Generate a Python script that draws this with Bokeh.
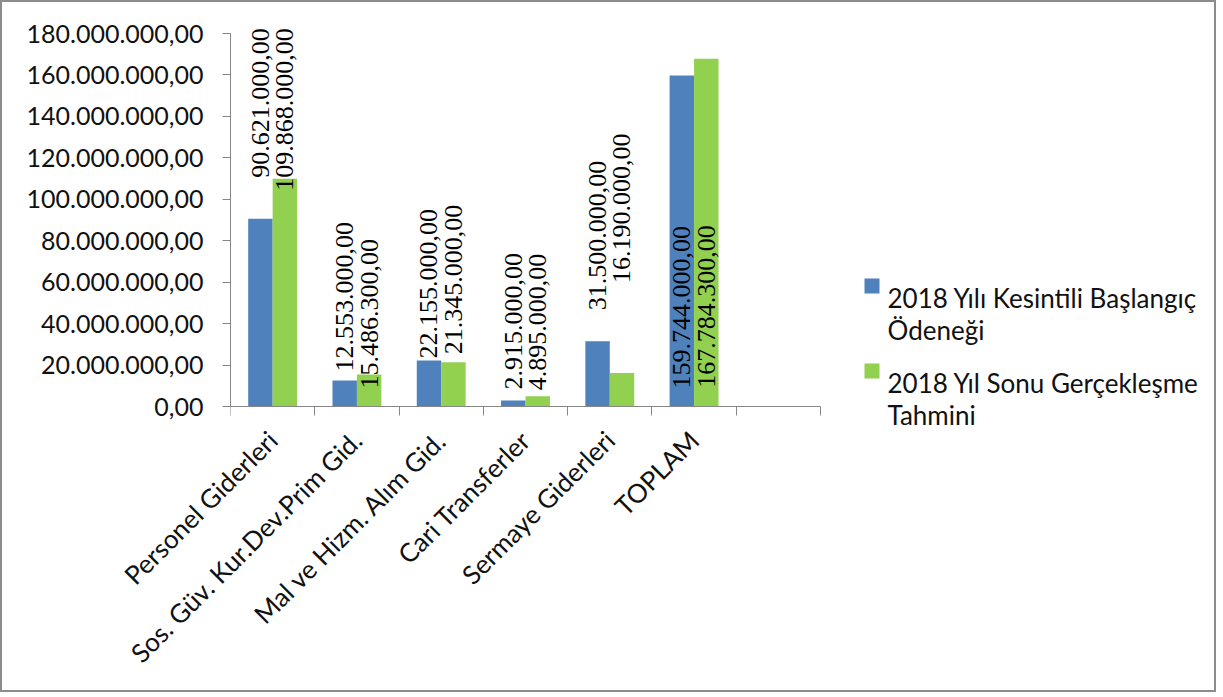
import math
from bokeh.plotting import figure
from bokeh.models import (ColumnDataSource, Range1d, FixedTicker, LinearAxis, LabelSet)
from bokeh.core.properties import value
from bokeh.embed import file_html
from bokeh.resources import INLINE

# ---- data ----
categories = ["Personel Giderleri", "Sos. Güv. Kur.Dev.Prim Gid.",
              "Mal ve Hizm. Alım Gid.", "Cari Transferler",
              "Sermaye Giderleri", "TOPLAM"]
baslangic = [90621000, 12553000, 22155000, 2915000, 31500000, 159744000]
tahmin = [109868000, 15486300, 21345000, 4895000, 16190000, 167784300]
series_names = ["2018 Yılı Kesintili Başlangıç\nÖdeneği",
                "2018 Yıl Sonu Gerçekleşme\nTahmini"]
y_ticks = list(range(0, 180000001, 20000000))
Y_MAX = 180000000

# label shifts in screen px (positive = up) to mimic the placement in the original
shift_baslangic = [41, 9, 2, 11, 31, -313]
shift_tahmin = [-12, -14, 8, 6, 90, -329]


def tr_fmt(v):
    s = f"{v:,.2f}"
    return s.replace(",", "X").replace(".", ",").replace("X", ".")


FONT = "Lato"
FS = "26px"
TXT = "#111111"
BLUE = "#4F81BD"
GREEN = "#92D050"
COLORS = [BLUE, GREEN]
AXIS_GRAY = "#868686"

n_slots = len(categories) + 1

# ---- layout geometry (page pixels) ----
BORDER = 2
AX_LEFT, AX_RIGHT = 230, 820        # x axis from slot 0 to slot n
AX_BOTTOM, AX_TOP = 406, 33         # y axis from 0 to Y_MAX
FR_LEFT, FR_RIGHT, FR_TOP, FR_BOTTOM = 230, 1210, 4, 428
SLOT_PX = (AX_RIGHT - AX_LEFT) / n_slots
PX_PER_UNIT = (AX_BOTTOM - AX_TOP) / Y_MAX


def dx(px):
    return (px - AX_LEFT) / SLOT_PX


def dy(py):
    return (AX_BOTTOM - py) / PX_PER_UNIT


centers = [i + 0.5 for i in range(len(categories))]
bw = 0.29

src_b = ColumnDataSource(dict(
    x=[c - bw / 2 for c in centers], top=baslangic,
    lab=[tr_fmt(v) for v in baslangic], off=shift_baslangic))
src_g = ColumnDataSource(dict(
    x=[c + bw / 2 for c in centers], top=tahmin,
    lab=[tr_fmt(v) for v in tahmin], off=shift_tahmin))

p = figure(frame_width=FR_RIGHT - FR_LEFT, frame_height=FR_BOTTOM - FR_TOP,
           output_backend="svg", toolbar_location=None,
           x_range=Range1d(dx(FR_LEFT), dx(FR_RIGHT)),
           y_range=Range1d(dy(FR_BOTTOM), dy(FR_TOP)),
           min_border_left=FR_LEFT - BORDER, min_border_right=4,
           min_border_top=FR_TOP - BORDER, min_border_bottom=262,
           x_axis_location=None,
           styles={"border": f"{BORDER}px solid #8c8c8c"})
p.outline_line_color = None
p.grid.visible = False
p.background_fill_color = "white"
p.border_fill_color = "white"

p.vbar(x="x", top="top", width=bw, source=src_b, fill_color=BLUE, line_color=None)
p.vbar(x="x", top="top", width=bw, source=src_g, fill_color=GREEN, line_color=None)

# y axis
ya = p.yaxis[0]
ya.ticker = FixedTicker(ticks=y_ticks)
ya.bounds = (0, Y_MAX)
ya.major_label_overrides = {t: tr_fmt(t) for t in y_ticks}
ya.axis_line_color = AXIS_GRAY
ya.major_tick_line_color = AXIS_GRAY
ya.major_tick_out = 8
ya.major_tick_in = 0
ya.minor_tick_line_color = None
ya.major_label_text_font = FONT
ya.major_label_text_font_size = "25px"
ya.major_label_text_color = TXT
ya.major_label_standoff = 19

# x axis with category labels (below the frame, just under the tick marks)
xa_lab = LinearAxis(ticker=FixedTicker(ticks=centers))
xa_lab.major_label_overrides = {c: n for c, n in zip(centers, categories)}
xa_lab.major_label_orientation = math.pi / 4
xa_lab.axis_line_color = None
xa_lab.major_tick_line_color = None
xa_lab.minor_tick_line_color = None
xa_lab.major_label_text_font = FONT
xa_lab.major_label_text_font_size = FS
xa_lab.major_label_text_color = TXT
xa_lab.major_label_standoff = 1
p.add_layout(xa_lab, "below")

# x axis with boundary ticks, drawn at y = 0
xa_ticks = LinearAxis(ticker=FixedTicker(ticks=list(range(n_slots + 1))),
                      fixed_location=0, bounds=(0, n_slots))
xa_ticks.major_label_overrides = {i: "" for i in range(n_slots + 1)}
xa_ticks.major_label_text_font_size = "0px"
xa_ticks.axis_line_color = AXIS_GRAY
xa_ticks.major_tick_line_color = AXIS_GRAY
xa_ticks.major_tick_out = 9
xa_ticks.major_tick_in = 0
xa_ticks.minor_tick_line_color = None
xa_ticks.major_label_standoff = 0
p.add_layout(xa_ticks, "below")

# data labels
for src in (src_b, src_g):
    p.add_layout(LabelSet(x="x", y="top", text="lab", source=src, y_offset="off",
                          angle=math.pi / 2, text_align="left", text_baseline="middle",
                          text_font=FONT, text_font_size=FS, text_color="black"))

# ---- legend (squares + wrapped names) ----
sq_left, sq_size = 864, 15
item_tops = [278, 363]
line_gap = 32
text_left = 887

p.quad(left=[dx(sq_left)] * 2, right=[dx(sq_left + sq_size)] * 2,
       top=[dy(t) for t in item_tops], bottom=[dy(t + sq_size) for t in item_tops],
       fill_color=COLORS, line_color=None)

tx, ty, tt = [], [], []
for top, name in zip(item_tops, series_names):
    for k, line in enumerate(name.split("\n")):
        tx.append(dx(text_left))
        ty.append(dy(top + 19 + k * line_gap))
        tt.append(line)
p.text(x=tx, y=ty, text=tt, text_font=value(FONT), text_font_size=FS,
       text_color=TXT, text_baseline="alphabetic", text_align="left")

open("out.html", "w").write(file_html(p, INLINE))
